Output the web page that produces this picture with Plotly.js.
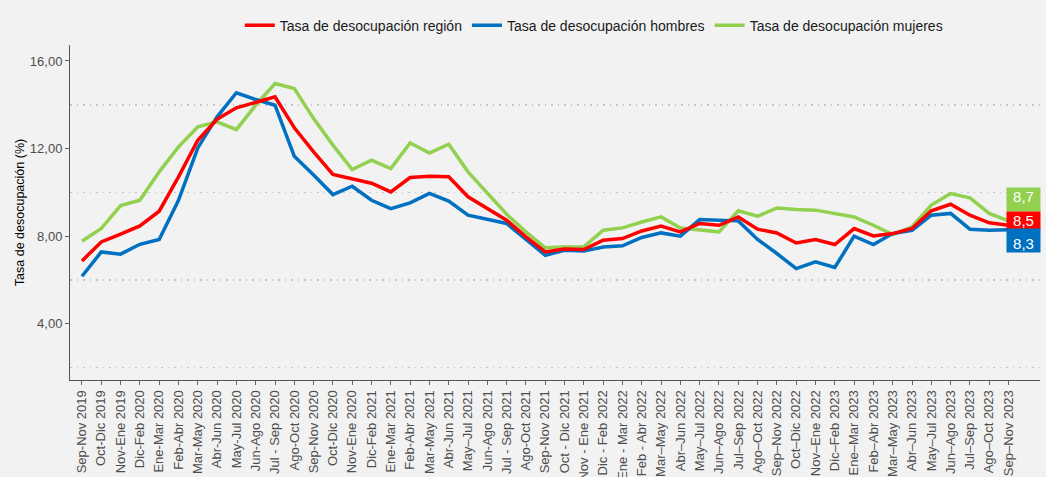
<!DOCTYPE html>
<html>
<head>
<meta charset="utf-8">
<script src="https://cdn.plot.ly/plotly-3.0.1.min.js"></script>
<style>
  html, body { margin: 0; padding: 0; background: #f2f2f2; }
  #chart { width: 1046px; height: 477px; }
</style>
</head>
<body>
<div id="chart"></div>
<script>
const periods = [
  "Sep-Nov 2019","Oct-Dic 2019","Nov-Ene 2019","Dic-Feb 2020","Ene-Mar 2020","Feb-Abr 2020",
  "Mar-May 2020","Abr-Jun 2020","May-Jul 2020","Jun-Ago 2020","Jul - Sep 2020","Ago-Oct 2020",
  "Sep-Nov 2020","Oct-Dic 2020","Nov-Ene 2020","Dic-Feb 2021","Ene-Mar 2021","Feb-Abr 2021",
  "Mar-May 2021","Abr-Jun 2021","May\u2013Jul 2021","Jun-Ago 2021","Jul - Sep 2021","Ago-Oct 2021",
  "Sep-Nov 2021","Oct - Dic 2021","Nov - Ene 2021","Dic - Feb 2022","Ene - Mar 2022","Feb - Abr 2022",
  "Mar\u2013May 2022","Abr\u2013Jun 2022","May\u2013Jul 2022","Jun\u2013Ago 2022","Jul\u2013Sep 2022","Ago\u2013Oct 2022",
  "Sep\u2013Nov 2022","Oct\u2013Dic 2022","Nov\u2013Ene 2022","Dic\u2013Feb 2023","Ene\u2013Mar 2023","Feb\u2013Abr 2023",
  "Mar\u2013May 2023","Abr\u2013Jun 2023","May\u2013Jul 2023","Jun\u2013Ago 2023","Jul\u2013Sep 2023","Ago\u2013Oct 2023",
  "Sep\u2013Nov 2023"
];

const tasaRegion = [
  6.87, 7.74, 8.09, 8.47, 9.14, 10.71, 12.38, 13.34, 13.86, 14.09, 14.36, 12.95,
  11.85, 10.82, 10.60, 10.42, 10.02, 10.68, 10.74, 10.71, 9.80, 9.26, 8.73, 7.97,
  7.28, 7.42, 7.39, 7.82, 7.89, 8.24, 8.46, 8.20, 8.58, 8.50, 8.88, 8.32,
  8.15, 7.69, 7.85, 7.62, 8.35, 8.01, 8.12, 8.35, 9.16, 9.46, 8.96, 8.61,
  8.50
];

const tasaHombres = [
  6.17, 7.28, 7.18, 7.63, 7.85, 9.64, 12.03, 13.45, 14.55, 14.24, 13.98, 11.65,
  10.79, 9.90, 10.28, 9.64, 9.26, 9.52, 9.95, 9.60, 8.96, 8.76, 8.58, 7.85,
  7.13, 7.36, 7.32, 7.51, 7.56, 7.94, 8.15, 8.00, 8.76, 8.73, 8.70, 7.85,
  7.21, 6.52, 6.83, 6.57, 8.00, 7.62, 8.12, 8.27, 8.96, 9.04, 8.32, 8.27,
  8.30
];

const tasaMujeres = [
  7.77, 8.35, 9.40, 9.64, 10.94, 12.08, 12.99, 13.22, 12.87, 13.98, 14.97, 14.74,
  13.37, 12.16, 11.04, 11.47, 11.09, 12.26, 11.80, 12.20, 10.94, 9.98, 9.00, 8.20,
  7.47, 7.51, 7.51, 8.27, 8.38, 8.65, 8.88, 8.37, 8.30, 8.20, 9.16, 8.91,
  9.29, 9.22, 9.19, 9.04, 8.88, 8.50, 8.07, 8.43, 9.42, 9.95, 9.75, 9.04,
  8.70
];

const seriesNames = [
  "Tasa de desocupación región",
  "Tasa de desocupación hombres",
  "Tasa de desocupación mujeres"
];

const colRed = "#ff0000", colBlue = "#0070c0", colGreen = "#92d050";

function mk(y, name, color) {
  return {
    type: "scatter", mode: "lines", x: periods, y: y, name: name,
    line: { color: color, width: 3.5 }, hoverinfo: "skip"
  };
}

const traces = [
  mk(tasaMujeres, seriesNames[2], colGreen),
  mk(tasaHombres, seriesNames[1], colBlue),
  mk(tasaRegion, seriesNames[0], colRed)
];

function fmt(v) { return v.toFixed(1).replace(".", ","); }
const last = periods[periods.length - 1];

function endLabel(arr, color, yshift, h, valign) {
  return {
    x: last, y: arr[arr.length - 1], xref: "x", yref: "y",
    text: fmt(arr[arr.length - 1]), showarrow: false,
    xanchor: "left", yanchor: "middle", xshift: -3, yshift: yshift,
    width: 33, height: h, valign: valign, align: "center", borderpad: 0,
    bgcolor: color, font: { family: "Liberation Sans, Arial, sans-serif", size: 15, color: "#ffffff" }
  };
}

const layout = {
  width: 1046, height: 477,
  paper_bgcolor: "#f2f2f2", plot_bgcolor: "#f2f2f2",
  margin: { l: 70, r: 6, t: 45, b: 97 },
  font: { family: "Liberation Sans, Arial, sans-serif", color: "#4d4d4d" },
  showlegend: true,
  legend: {
    orientation: "h", x: 0.54, xanchor: "center", y: 1.058, yanchor: "middle",
    traceorder: "reversed", itemwidth: 30,
    font: { size: 14, color: "#1a1a1a" }, bgcolor: "rgba(0,0,0,0)"
  },
  xaxis: {
    type: "category", range: [-0.62, 49.63],
    tickangle: -90, tickfont: { size: 13, color: "#4d4d4d" },
    ticks: "outside", ticklen: 4, tickcolor: "#666",
    showline: true, linecolor: "#555", linewidth: 1,
    showgrid: false, zeroline: false, fixedrange: true
  },
  yaxis: {
    range: [1.434, 16.73], tick0: 0, dtick: 4, tickformat: ".2f",
    tickfont: { size: 13, color: "#4d4d4d" },
    ticks: "outside", ticklen: 4, tickcolor: "#666",
    showline: true, linecolor: "#555", linewidth: 1,
    showgrid: false, zeroline: false,
    minor: { tick0: 2, dtick: 4, showgrid: true, gridcolor: "#c4c4c4", griddash: "1.5px,5px", gridwidth: 1.5, ticklen: 0 },
    title: { text: "Tasa de desocupación (%)", font: { size: 12.5, color: "#000000" }, standoff: 2 }
  },
  separators: ",.",
  annotations: [
    endLabel(tasaMujeres, colGreen, 21, 23, "top"),
    endLabel(tasaRegion, colRed, 5, 17, "middle"),
    endLabel(tasaHombres, colBlue, -11, 23, "bottom")
  ]
};

Plotly.newPlot("chart", traces, layout, { staticPlot: true, displayModeBar: false });
</script>
</body>
</html>
